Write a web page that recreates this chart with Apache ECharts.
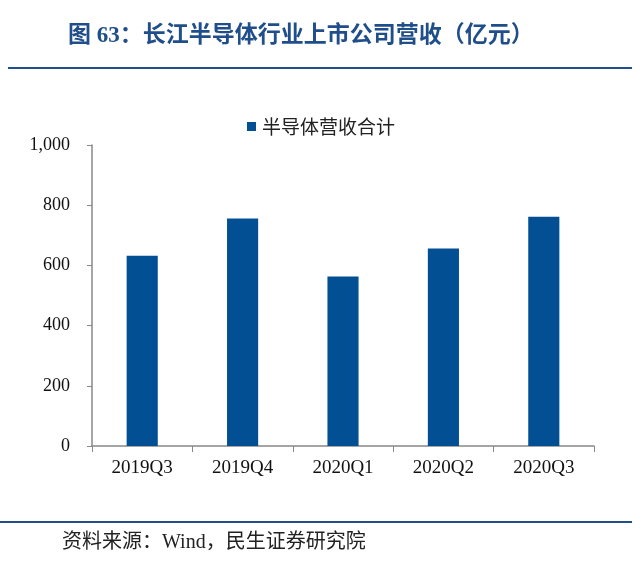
<!DOCTYPE html>
<html>
<head>
<meta charset="utf-8">
<script src="https://cdn.jsdelivr.net/npm/echarts@6/dist/echarts.min.js"></script>
<style>html,body{margin:0;padding:0;background:#fff;}#c{width:640px;height:573px;}</style>
</head>
<body>
<div id="c"></div>
<script>
var categories = ['2019Q3', '2019Q4', '2020Q1', '2020Q2', '2020Q3'];
var revenue = [632, 756, 563, 656, 762];
var seriesName = '半导体营收合计';
var titleText = '图 63：长江半导体行业上市公司营收（亿元）';
var sourceText = '资料来源：Wind，民生证券研究院';

var chart = echarts.init(document.getElementById('c'));
var serif = '"Liberation Serif", "Noto Sans CJK SC", serif';
chart.setOption({
  backgroundColor: '#fff',
  animation: false,
  title: {
    text: titleText,
    left: 63, top: 20,
    textStyle: { color: '#1f4e8a', fontSize: 23, fontWeight: 'bold', fontFamily: serif }
  },
  legend: {
    data: [seriesName],
    top: 112, left: 242,
    itemWidth: 9, itemHeight: 9, itemGap: 4,
    icon: 'rect',
    textStyle: { fontSize: 19, color: '#222', padding: [0, 0, 0, 1], fontFamily: '"Noto Sans CJK SC", sans-serif' }
  },
  grid: { left: 92, right: 46, top: 145, bottom: 127 },
  xAxis: {
    type: 'category',
    data: categories,
    axisLine: { lineStyle: { color: '#888', width: 1.5 } },
    axisTick: { show: true, length: 6, lineStyle: { color: '#888' }, alignWithLabel: false },
    axisLabel: { color: '#111', fontSize: 19, margin: 13, fontFamily: serif }
  },
  yAxis: {
    type: 'value',
    min: 0, max: 1000, interval: 200,
    splitLine: { show: false },
    axisLine: { show: true, lineStyle: { color: '#888', width: 1.5 } },
    axisTick: { show: true, length: 5, lineStyle: { color: '#888' } },
    axisLabel: {
      color: '#111', fontSize: 18, margin: 22, fontFamily: serif,
      formatter: function (v) { return v.toLocaleString('en-US'); }
    }
  },
  series: [{
    name: seriesName,
    type: 'bar',
    data: revenue,
    barWidth: '31%',
    itemStyle: { color: '#034f94' }
  }],
  graphic: [
    { type: 'rect', shape: { x: 8, y: 67, width: 624, height: 2 }, style: { fill: '#1f4e8a' } },
    { type: 'rect', shape: { x: 0, y: 521, width: 632, height: 2 }, style: { fill: '#1f4e8a' } },
    { type: 'text', left: 62, top: 533, style: { text: sourceText, fontSize: 20, fill: '#222', fontFamily: serif } }
  ]
});
</script>
</body>
</html>
